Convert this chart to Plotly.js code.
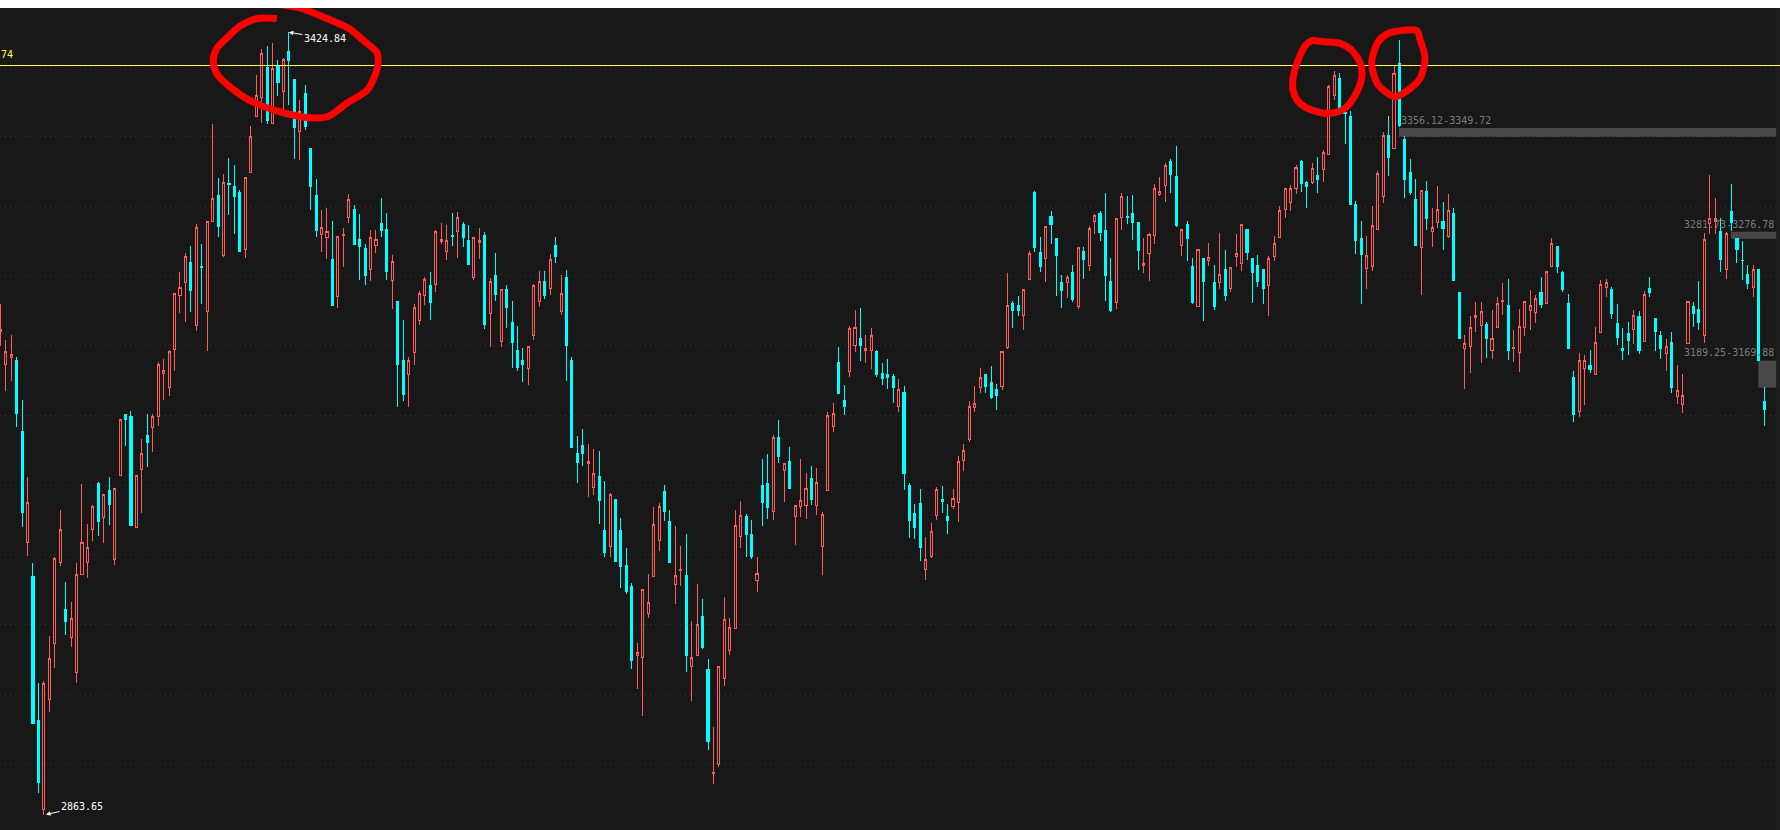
<!DOCTYPE html>
<html>
<head>
<meta charset="utf-8">
<script src="https://cdn.plot.ly/plotly-3.0.1.min.js"></script>
<style>html,body{margin:0;padding:0;background:#fff;overflow:hidden}#c{width:1780px;height:830px}
.boxlayer path{shape-rendering:crispEdges !important}</style>
</head>
<body>
<div id="c"></div>
<script>
const highs=[3229.9,3204.1,3207.9,3192.1,3161.3,3106.0,3044.4,2958.3,2959.7,2992,
3048.7,3082.1,3030.7,3016.4,3044.4,3100.8,3072.1,3086,3102.5,3093.6,
3106,3097.2,3146.7,3150.5,3153.4,3107.2,3133.1,3151,3151,3188.5,
3190.5,3196.9,3238,3253.2,3266.8,3271.4,3287.3,3273.3,3289.2,3358.7,
3320,3323.5,3334.3,3329.5,3311.6,3320.6,3357.5,3394,3412.5,3414.9,
3417.5,3404.8,3406.7,3424.84,3390.9,3376.1,3386.9,3341.7,3319.4,3297.2,
3299.1,3289.3,3279,3284.1,3308.7,3300.6,3294.3,3273.3,3282.9,3282.9,
3305.8,3295.1,3264.9,3231.5,3218.2,3191.6,3229.6,3239.1,3249.4,3253.2,
3282.8,3288,3286.6,3295.2,3295.9,3288.7,3286.6,3277.7,3284.2,3281.3,
3248.3,3266.5,3240.4,3243.5,3232.1,3214.1,3198.4,3199.6,3244.3,3253.6,
3253.6,3265.5,3278,3250.7,3254.3,3191.9,3135.2,3140,3129.3,3125.9,
3124.5,3103,3094.1,3089.3,3076.4,3054.9,3029.8,2986.8,3025.2,3036.3,
3084.3,3087.2,3100.1,3081.9,3070.4,3056.1,3064.7,3002.3,3028.8,3018,
2975,2926.2,2969.8,3019.5,3004.4,3081.9,3088.3,3079,3074.7,3048.2,
3118.5,3122,3135.7,3146.4,3115.6,3127.1,3085.5,3118.5,3108.4,3113.5,
3112,3080.5,3152.2,3158.6,3198.8,3171.6,3213.9,3225.4,3226.8,3207.4,
3212.4,3197.1,3187.3,3190.3,3179.8,3176.2,3171.2,3101.6,3086.5,3097.3,
3062.8,3072.9,3098.7,3099.4,3086.5,3097.3,3120.9,3129.5,3160.4,3171.2,
3184.1,3179,3185.5,3172.6,3196,3252.2,3232.1,3235.7,3240.5,3268,
3311,3278,3285.9,3296.7,3276.6,3250.8,3250.8,3257.9,3270.6,3270.9,
3285.9,3294.5,3296.7,3309.6,3263,3291.4,3309.6,3307.4,3308.2,3288.8,
3277.3,3280.7,3316,3321.1,3331.1,3334,3343.3,3283.5,3289.5,3263,
3269.2,3263,3273.7,3257.9,3280.9,3268.7,3256.3,3280.2,3287.1,3283,
3262.2,3265.1,3255,3264.4,3278.7,3300,3312.9,3315.3,3329.4,3333.3,
3318.2,3331.1,3335.4,3340.4,3386.8,3396.9,3395.4,3367.7,3368.2,3303.6,
3289.3,3278.5,3300,3325.1,3353.1,3364.6,3400.5,3419.1,3350.2,3333.7,
3319.4,3311.5,3318,3298.6,3314.4,3302.9,3308.6,3298.6,3238.3,3207.5,
3221.1,3231.2,3231.2,3216.8,3225.4,3234.8,3244.8,3247.7,3211.1,3226.2,
3231.9,3239.8,3236.2,3249.1,3253.2,3277.1,3271.3,3253.4,3236.9,3181.7,
3194.6,3193.2,3196.7,3213.2,3247,3247.7,3241.9,3229.7,3212.5,3216.8,
3225.4,3224.7,3239,3249.1,3219.7,3210.4,3204.6,3209.7,3186,3179.5,
3231.6,3231.2,3246.2,3280.7,3322.3,3305.8,3291.4,3281.4,3315.8,3277.1,
3275,3257.7,3257.7,3254.8,3170.2];
const bodyTop=[3211.3,3195.7,3194,3189.7,3138.3,3087.2,3034.3,2931,2958,2975.3,
3047,3067.8,3011.1,3004,3035.5,3058.5,3054.9,3084.3,3101,3093.6,
3096,3097.2,3146.7,3150.5,3149.1,3107.2,3123,3135.5,3149.1,3186.2,
3182.1,3195.7,3237.2,3241.8,3263.8,3260,3284.7,3257,3289.2,3305.6,
3307.5,3317.1,3316.3,3314.4,3309.6,3320.6,3350.3,3379.5,3409.6,3399.5,
3398.8,3400.7,3405.5,3411.3,3390.9,3367.7,3380.9,3341.7,3308,3284.8,
3281.9,3262.1,3278.3,3279.8,3304.9,3297.9,3276.4,3270,3277.6,3276.4,
3287.9,3283.6,3260.4,3231.5,3189.7,3189.3,3227.7,3237.2,3247.5,3242.9,
3282,3276.3,3275.6,3278.7,3292.1,3286.6,3275.6,3277.7,3275.6,3279.4,
3246.4,3250.7,3240.4,3240,3216.3,3196.2,3189.7,3199.6,3243.3,3246.2,
3245.7,3262,3272.2,3237.6,3248.6,3189.7,3123,3128.1,3117.1,3108.5,
3106.5,3067.6,3093.4,3089.3,3067.6,3042,3026.9,2979.6,3025.2,3015.9,
3071.9,3084.8,3095.1,3074,3035,3039.3,3035.3,2976.2,2999.9,3005.9,
2967.8,2893.9,2969.8,3003.5,2997.7,3070.9,3078.1,3077.6,3064.7,3036.5,
3099.8,3101.3,3134.3,3134.3,3115.6,3117,3085.5,3089.1,3097.7,3104.8,
3102,3079,3150,3151.2,3188,3160.8,3212.4,3213.2,3205.3,3197.9,
3207.2,3195.9,3180.2,3179,3177.6,3168.3,3166.1,3099.4,3079.3,3086.5,
3046.3,3066.4,3096.5,3089.4,3077.2,3090.1,3117.1,3124.5,3156.1,3158.2,
3176.9,3179,3173.3,3168.3,3196,3228.5,3230,3228.5,3240.5,3265.8,
3309.6,3266.5,3285.7,3292.4,3276.6,3245,3248.6,3252.2,3270.6,3267.3,
3284.2,3293.6,3294.5,3282.3,3245.8,3290.9,3307.2,3292.4,3294.5,3288.1,
3258.7,3279.9,3312.9,3310.8,3329,3332.5,3321.1,3283.5,3286.6,3256.5,
3269.2,3262.2,3263.4,3245,3251.3,3254.4,3256.3,3266.3,3287.1,3283,
3262.2,3257.2,3254.4,3262.2,3273.5,3297.2,3312.9,3312.9,3328,3331.8,
3317.2,3327.3,3321.8,3338.8,3385.9,3393.8,3391.9,3367.5,3364.6,3301.5,
3277.1,3264.6,3286.2,3323.5,3351,3351,3395.2,3402.6,3348.1,3324.4,
3305.1,3311.5,3310.8,3284.7,3297.6,3289.3,3296.9,3295,3238.3,3201.5,
3213.3,3221.6,3224.5,3215.4,3205.1,3230.2,3232.6,3229,3198.4,3213.7,
3231.4,3228.5,3233.8,3238.1,3253.2,3273.3,3271.3,3252.7,3230.5,3177.4,
3189.6,3189.6,3186,3202.2,3243.8,3245.5,3240.5,3216.1,3198.2,3208.9,
3221.6,3221.1,3236.9,3241.2,3219.7,3207.5,3199.6,3202.5,3168.1,3164.5,
3231.6,3228.3,3226.2,3276.4,3291.2,3291.2,3282.1,3280.7,3296.5,3277.1,
3261.3,3251.3,3254.6,3254.8,3160.2];
const bodyBot=[3210.3,3186.2,3191.6,3151.5,3080.5,3058.5,2929.1,2886.8,2867,2945.9,
2986,3044.6,3002.3,2990.3,2965.7,3035.5,3044.6,3067.8,3074,3076.4,
3086,3046.8,3107,3147.2,3070.9,3069.7,3111.5,3130.7,3141.4,3149.3,
3179.7,3170.1,3197.4,3235.7,3245.6,3239.5,3214.4,3256.2,3224.7,3289.2,
3285.8,3264.9,3315.9,3307.3,3267.3,3269,3324.5,3364.2,3378,3361.8,
3359.1,3388.5,3382.1,3404.8,3356.3,3353.4,3357,3314,3282.4,3279.5,
3277.4,3228.6,3235,3278.8,3291.7,3272.8,3270.9,3250.6,3254.4,3271.6,
3282.9,3253.5,3246.5,3186.7,3164.7,3179.5,3195.4,3218.2,3236.1,3230.8,
3243.7,3275.1,3267.5,3278.2,3281.8,3277.5,3258.1,3248.8,3273.9,3214.9,
3223.2,3236.6,3202.9,3227.1,3202,3184.7,3186.2,3183.5,3207.2,3231.6,
3235.7,3240.9,3263.9,3224.4,3199.8,3126.9,3116.1,3122.6,3115.4,3098.2,
3088.6,3051.3,3055.8,3044.9,3041.3,3024,2973.8,2977.7,2976.2,3007.8,
3034.3,3060.2,3080.7,3044.6,3029,3038.4,2977.9,2969.5,2977.4,2983.6,
2916.2,2893.2,2899.2,2960.9,2981,2996.8,3062.8,3064.7,3048.9,3031.9,
3087.6,3084,3081.4,3120.6,3110.6,3097.7,3077.8,3084.3,3085,3089.8,
3085.7,3055.6,3095.8,3141.7,3165.8,3156.5,3181.6,3200.2,3200.2,3196.2,
3196.9,3179.4,3176.6,3176.9,3169.7,3156.1,3108.3,3074.3,3069.3,3055,
3039.4,3048.5,3077.9,3087.9,3074.3,3084.4,3087.5,3117.6,3132.4,3155.4,
3169.7,3170.4,3162.5,3164,3170.7,3198.4,3224.9,3224.9,3221.6,3247.4,
3270.1,3256.5,3262.5,3286.6,3264.4,3239.3,3245.3,3232.8,3227.8,3261.5,
3257.5,3289,3280.9,3250,3225,3230.9,3291.9,3291.7,3288.1,3268,
3257.5,3266.1,3279,3308.2,3314.9,3322.5,3285.9,3271.8,3276.6,3230.7,
3228.1,3245.8,3260.8,3227.8,3245.3,3235.7,3241,3263.9,3259.1,3266.6,
3252.2,3245.8,3240.7,3243.1,3263.7,3277.6,3297.6,3302.7,3312.7,3316,
3313.9,3316.8,3318.9,3326.6,3337.1,3379.2,3369,3366.5,3301.5,3275.7,
3265.6,3255.1,3256.5,3283.3,3306.7,3335.2,3341.4,3358.1,3319.4,3310.1,
3272.1,3270.1,3291.4,3281.6,3288.1,3284.3,3278.5,3247,3205.3,3197.7,
3199.1,3219.9,3214.7,3205.1,3196.3,3212.8,3231.9,3196.3,3197.7,3194.8,
3212.8,3224.9,3223.8,3229.7,3230.5,3256.5,3256.5,3240.5,3198.2,3150.8,
3153,3183.3,3183.1,3179,3209.2,3241.5,3223.3,3206.1,3196.7,3203.9,
3211.3,3196.7,3202.7,3238.3,3210.4,3198.2,3194.6,3170.2,3163.3,3157.5,
3201.3,3223.3,3216.8,3207,3287.4,3288.8,3262,3254.4,3288.6,3269.2,
3260.8,3244.6,3241.9,3189.6,3154.4];
const lows=[3200,3167.3,3174.9,3141.9,3070.2,3049.4,2929.1,2878.9,2863.65,2937,
2968.6,3042.2,2992.7,2984.1,2957.8,3035.5,3033.1,3059.7,3063.7,3058.2,
3071.6,3043,3107,3128.3,3070.9,3069.7,3079.7,3112.7,3123.5,3142.2,
3161,3164.2,3182.1,3223.2,3216.8,3223.9,3210.8,3229.9,3196,3289.2,
3277.9,3263.7,3293.6,3280,3267.3,3263,3324,3364.2,3359.9,3358.9,
3359.1,3379,3368.9,3372.5,3333.8,3333.1,3354.6,3297.2,3278.1,3267.3,
3262.3,3228.6,3227.2,3256.6,3288.1,3272.8,3247,3243.4,3246.3,3266.6,
3278.1,3247,3226.2,3156.3,3160.1,3156.3,3185.9,3215.2,3228.9,3218.2,
3238.4,3272.7,3261.5,3271.5,3263.2,3271,3258.1,3247.4,3262.4,3212,
3199.3,3232.1,3199.1,3212.7,3184,3181.9,3174,3171.8,3204.1,3227.8,
3233.5,3236.4,3259.3,3222,3174.7,3126.9,3101.5,3113.7,3091.7,3092.9,
3072.1,3048.4,3048.4,3044.9,3026.2,3021.9,2968.1,2953.8,2934.4,3004.7,
3034.3,3052.7,3074.3,3044.6,3014.5,3027.4,2965.7,2944.9,2977.4,2982.2,
2909.7,2885.4,2897.8,2955.6,2977.9,2996.8,3054.6,3048.2,3046.7,3023.1,
3070.4,3075.4,3074.7,3115.6,3087.6,3097.7,3056.8,3076.9,3075.4,3085.5,
3078.3,3035.3,3095.8,3137.8,3165.1,3150,3177.3,3195.2,3188.8,3187.3,
3183,3177.3,3171.6,3169,3159,3152.5,3096.6,3062.1,3061.4,3045.6,
3032,3047.8,3075,3080.1,3065,3082.9,3073.6,3110.2,3131,3152.5,
3166.1,3166.1,3161.8,3153.9,3168.3,3197.7,3212.7,3221.4,3211.3,3247.4,
3267.3,3252.9,3245.8,3273,3235.7,3227.1,3234.3,3231.4,3226.4,3247.9,
3253.6,3280.2,3275.2,3232.1,3224.2,3226.4,3283,3287.4,3275.9,3254.4,
3252.2,3246.5,3273,3307.4,3303.1,3309.6,3285.2,3264.4,3260.8,3230,
3228.1,3217.8,3257.2,3225.7,3240.7,3232.1,3238.6,3256.5,3253.6,3261.5,
3230.7,3242.2,3230,3221.4,3260.8,3277.6,3291.7,3296.7,3308.9,3310.3,
3298.8,3316,3309.6,3317.5,3337.1,3376.1,3369,3344.5,3301.5,3265.6,
3229.7,3240.5,3253.4,3283.3,3302.2,3321.6,3341.4,3356.7,3305.8,3307.9,
3271.5,3236.2,3282.8,3270.6,3284.3,3268.5,3277.1,3247,3204.6,3168.8,
3180.2,3209.7,3187.4,3191,3190.3,3212.8,3221.8,3189.6,3188.1,3181,
3206.8,3211.1,3216.1,3226.9,3229.7,3256.5,3252,3238.4,3198.2,3145.1,
3148.7,3157.3,3180.2,3179,3209.2,3234.8,3219,3200.3,3189.6,3193.2,
3201,3193.9,3202.7,3234.8,3196,3190.3,3181.7,3165.9,3158,3151.6,
3201.3,3213.2,3211.1,3201.8,3280.4,3279.9,3252.7,3247.7,3282.1,3259.1,
3247,3240.5,3234.8,3189.6,3142.2];
const rising=[1,1,1,0,0,1,0,0,1,1,
1,1,0,1,1,1,1,1,0,1,
0,1,1,0,0,1,1,0,1,1,
1,1,1,1,1,0,1,0,1,1,
0,1,0,0,0,1,1,1,1,0,
1,0,1,0,0,1,0,0,0,1,
1,0,1,1,1,0,0,0,1,1,
0,0,1,0,0,1,1,1,1,0,
1,1,1,0,1,0,0,1,1,0,
1,0,1,0,0,0,0,1,1,1,
0,1,0,1,0,0,0,0,1,1,
0,0,1,0,0,0,0,1,1,1,
1,1,0,0,1,1,0,1,1,0,
0,1,1,1,1,1,1,0,0,1,
0,0,1,0,1,0,1,1,1,0,
1,1,1,1,0,0,1,1,0,1,
1,0,0,0,0,1,0,0,0,0,
1,1,1,0,0,1,1,1,1,1,
1,0,0,0,1,1,0,0,1,1,
0,0,1,0,0,0,1,0,1,0,
1,1,0,0,0,1,1,0,0,0,
1,1,1,1,1,0,0,1,0,0,
1,0,1,0,1,0,1,1,1,0,
0,0,0,1,1,1,1,1,1,0,
0,1,0,1,1,1,0,0,0,0,
0,1,1,1,1,0,1,0,0,0,
0,1,0,1,1,0,1,0,0,1,
1,1,1,0,1,1,1,0,1,1,
1,1,1,0,1,1,0,0,0,0,
1,1,0,1,1,1,0,0,0,0,
1,0,1,0,0,0,1,0,1,1,
1,0,0,1,1,1,0,1,0,0,
0,0,1,0,0];

const gridLevels=[3400,3350,3300,3250,3200,3150,3100,3050,3000,2950,2900];
const resistance=3401;
const peakHigh=3424.84, troughLow=2863.65;
const ringAX=[50.8,47.2,44.0,41.6,39.8,39.1,39.8,42.2,45.9,50.8,56.3,60.2,63.7,67.4,69.2,69.2,66.6,64.2,60.0,55.0,50.5];
const ringAY=[3434.7,3434.7,3429.3,3420.7,3413.5,3404.2,3394.9,3385.6,3375.8,3368.4,3363.7,3364.4,3374.1,3383.4,3398.5,3410,3419.3,3427.2,3434.7,3442.3,3445.1];
const ringBX=[239.8,240.9,243.0,246.1,248.2,249.8,250.1,249.2,247.0,244.3,241.2,238.7,237.5,237.5,238.4,239.8];
const ringBY=[3415.7,3418.8,3418.1,3416.9,3412.1,3402.6,3393,3382.2,3370.3,3366.7,3368.6,3373.9,3382.2,3393,3405,3415.7];
const ringCX=[260.2,255.0,253.1,251.9,253.1,256.2,258.6,260.8,261.7,260.8,260.2];
const ringCY=[3426,3424.1,3418.1,3402.6,3387,3378.6,3383.4,3391.8,3406.2,3419.3,3426];
const zoneStart=[256.9,317.9,322.9], zoneEnd=326.2;
const zoneHigh=[3356.12,3281.73,3189.25], zoneLow=[3349.72,3276.78,3169.88];
const zoneLabels=["3356.12-3349.72","3281.73-3276.78","3189.25-3169.88"];

const BG='#181818', RED='#ff5c5c', CYAN='#00ffff', MONO='"DejaVu Sans Mono","Liberation Mono",monospace';
const xs=highs.map((_,i)=>i);
const opens=rising.map((u,i)=>u?bodyBot[i]:bodyTop[i]);
const closes=rising.map((u,i)=>u?bodyTop[i]:bodyBot[i]);
const xMin=-0.055, xMax=326.9;

function ring(x,y){return {type:'scatter',mode:'lines',x:x,y:y,cliponaxis:false,hoverinfo:'skip',showlegend:false,
  line:{color:'#ff0000',width:7,shape:'spline',smoothing:0.8}};}

const data=[
 {type:'candlestick',x:xs,open:opens,high:highs,low:lows,close:closes,hoverinfo:'skip',showlegend:false,whiskerwidth:0,
  increasing:{line:{color:RED,width:1},fillcolor:BG},
  decreasing:{line:{color:CYAN,width:1},fillcolor:CYAN}},
 {type:'scatter',mode:'lines',x:[xMin,xMax],y:[resistance,resistance],hoverinfo:'skip',showlegend:false,line:{color:'#ffff66',width:1}},
 ring(ringAX,ringAY),ring(ringBX,ringBY),ring(ringCX,ringCY)
];

const shapes=zoneStart.map((s,i)=>({type:'rect',layer:'below',xref:'x',yref:'y',x0:s,x1:zoneEnd,y0:zoneLow[i],y1:zoneHigh[i],fillcolor:'#484848',line:{width:0}}));
shapes.push({type:'rect',layer:'below',xref:'x',yref:'paper',x0:zoneEnd,x1:xMax,y0:0,y1:1,fillcolor:'#1f1f1f',line:{width:0}});

const grayFont={family:MONO,size:10,color:'#7c7c7c'};
const annotations=[
 {x:53,y:peakHigh,xref:'x',yref:'y',text:peakHigh.toFixed(2),showarrow:true,ax:36,ay:6,arrowhead:2,arrowsize:0.9,arrowwidth:1,arrowcolor:'#fff',standoff:0,font:{family:MONO,size:10,color:'#fff'}},
 {x:8.4,y:troughLow,xref:'x',yref:'y',text:troughLow.toFixed(2),showarrow:true,ax:36,ay:-8,arrowhead:2,arrowsize:0.9,arrowwidth:1,arrowcolor:'#fff',standoff:0,font:{family:MONO,size:10,color:'#fff'}},
 {x:0,y:3408.8,xref:'paper',yref:'y',text:'74',showarrow:false,xanchor:'left',xshift:-1,font:{family:MONO,size:10,color:'#ffff33'}},
 {x:256.9,y:3361.9,xref:'x',yref:'y',text:zoneLabels[0],showarrow:false,xanchor:'left',font:grayFont},
 {x:326.2,y:3287.3,xref:'x',yref:'y',text:zoneLabels[1],showarrow:false,xanchor:'right',font:grayFont},
 {x:326.2,y:3194.8,xref:'x',yref:'y',text:zoneLabels[2],showarrow:false,xanchor:'right',font:grayFont}
];

const layout={
 width:1780,height:830,autosize:false,
 margin:{l:0,r:0,t:8,b:0,pad:0},
 paper_bgcolor:'#ffffff',plot_bgcolor:BG,showlegend:false,
 boxgap:0.45,
 xaxis:{range:[xMin,xMax],showgrid:false,zeroline:false,showticklabels:false,ticks:'',showline:false,rangeslider:{visible:false}},
 yaxis:{range:[2852.55,3442.26],tickmode:'array',tickvals:gridLevels,showticklabels:false,ticks:'',zeroline:false,showline:false,showgrid:true,gridcolor:'#333333',gridwidth:1,griddash:'1px,4px'},
 shapes:shapes,annotations:annotations
};
Plotly.newPlot('c',data,layout,{displayModeBar:false,staticPlot:true});
</script>
</body>
</html>
